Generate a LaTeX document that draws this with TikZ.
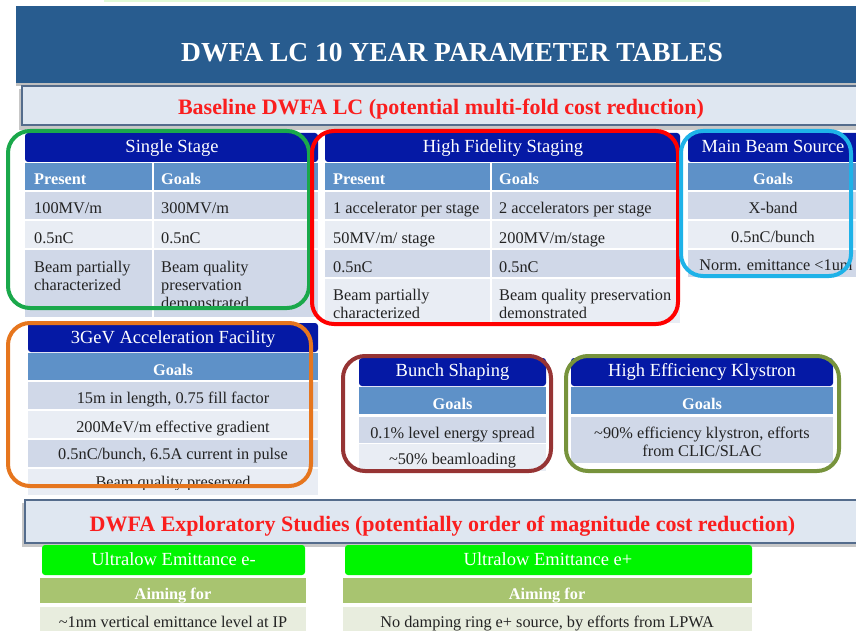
\documentclass[tikz,border=0pt]{standalone}
\usepackage{fontspec}
\setmainfont{Liberation Serif}

\definecolor{titleblue}{RGB}{40,92,143}
\definecolor{subfill}{RGB}{223,231,241}
\definecolor{subborder}{RGB}{84,108,140}
\definecolor{hdrblue}{RGB}{5,25,165}
\definecolor{colblue}{RGB}{94,145,200}
\definecolor{rowdark}{RGB}{208,216,232}
\definecolor{rowlight}{RGB}{233,237,244}
\definecolor{txtcol}{RGB}{35,35,35}
\definecolor{redtxt}{RGB}{250,30,30}
\definecolor{gframe}{RGB}{26,168,75}
\definecolor{rframe}{RGB}{255,0,0}
\definecolor{bframe}{RGB}{30,178,232}
\definecolor{oframe}{RGB}{230,118,30}
\definecolor{brframe}{RGB}{150,52,52}
\definecolor{olframe}{RGB}{119,147,60}
\definecolor{brightgreen}{RGB}{0,245,0}
\definecolor{aimgreen}{RGB}{168,196,112}
\definecolor{datagreen}{RGB}{232,237,222}
\definecolor{stripgreen}{RGB}{225,250,215}

% filled table cell: style, name, x, y (top-left), width, height
\newcommand\cellat[6]{\node[#1, minimum width=#5pt, minimum height=#6pt] (#2) at (#3,#4) {};}

\begin{document}
\begin{tikzpicture}[x=1pt,y=-1pt,
  cellshape/.style={anchor=north west, inner sep=0pt, outer sep=0pt},
  hdrcell/.style={cellshape, fill=hdrblue, rounded corners=3pt},
  colcell/.style={cellshape, fill=colblue},
  darkrow/.style={cellshape, fill=rowdark},
  lightrow/.style={cellshape, fill=rowlight},
  greenhdr/.style={cellshape, fill=brightgreen, rounded corners=3pt},
  aimcell/.style={cellshape, fill=aimgreen},
  datacell/.style={cellshape, fill=datagreen},
  bar/.style={cellshape, fill=subfill, draw=subborder, line width=2.5pt},
  titletext/.style={text=white, font=\bfseries\fontsize{27.5}{30}\selectfont, inner sep=0pt, anchor=base},
  redtext/.style={text=redtxt, font=\bfseries\fontsize{22}{24}\selectfont, inner sep=0pt, anchor=base},
  hdrtext/.style={text=white, font=\fontsize{18.5}{20}\selectfont, inner sep=0pt, anchor=base},
  coltext/.style={text=white, font=\bfseries\fontsize{16.3}{18}\selectfont, inner sep=0pt},
  celltext/.style={text=txtcol, font=\fontsize{16.3}{18}\selectfont, inner sep=0pt},
  frame/.style={line width=4pt, rounded corners=22pt},
]
\useasboundingbox (0,0) rectangle (856,631);
\clip (0,0) rectangle (856,631);

% faint strip along the top edge
\fill[stripgreen] (104,0) rectangle (710,2.5);

% title bar
\fill[black, opacity=0.25] (16,8) rectangle (860,86);
\cellat{cellshape, fill=titleblue}{title}{16}{6}{844}{77}
\node[titletext] (titlet) at (452,62) {DWFA LC 10 YEAR PARAMETER TABLES};

% baseline sub-heading bar
\fill[black, opacity=0.22] (19,89) rectangle (860,130);
\cellat{bar}{sub}{22}{86}{840}{39}
\node[redtext] (subt) at (441,115) {Baseline DWFA LC (potential multi-fold cost reduction)};

% ---------- Single Stage ----------
\cellat{hdrcell}{ssh}{25}{133}{293}{29}
\node[hdrtext] (ssht) at (172,153) {Single Stage};
\cellat{colcell}{ssp}{25}{163}{127}{27}
\cellat{colcell}{ssg}{154}{163}{164}{27}
\node[coltext, anchor=base west] (sspt) at (34,185) {Present};
\node[coltext, anchor=base west] (ssgt) at (161,185) {Goals};
\cellat{darkrow}{ss1a}{25}{192}{127}{27}
\cellat{darkrow}{ss1b}{154}{192}{164}{27}
\cellat{lightrow}{ss2a}{25}{221}{127}{27}
\cellat{lightrow}{ss2b}{154}{221}{164}{27}
\cellat{darkrow}{ss3a}{25}{250}{127}{67}
\cellat{darkrow}{ss3b}{154}{250}{164}{67}
\node[celltext, anchor=base west] (ss1at) at (34,214) {100MV/m};
\node[celltext, anchor=base west] (ss1bt) at (161,214) {300MV/m};
\node[celltext, anchor=base west] (ss2at) at (34,243) {0.5nC};
\node[celltext, anchor=base west] (ss2bt) at (161,243) {0.5nC};
\node[celltext, anchor=base west] (ss3at) at (34,272) {Beam partially};
\node[celltext, anchor=base west] (ss3at2) at (34,290) {characterized};
\node[celltext, anchor=base west] (ss3bt) at (161,272) {Beam quality};
\node[celltext, anchor=base west] (ss3bt2) at (161,290) {preservation};
\begin{scope}
  \clip (150,295) rectangle (320,306);
  \node[celltext, anchor=base west] (ss3bt3) at (161,308) {demonstrated};
\end{scope}

% ---------- High Fidelity Staging ----------
\cellat{hdrcell}{hfh}{325}{133}{355}{29}
\node[hdrtext] (hfht) at (503,153) {High Fidelity Staging};
\cellat{colcell}{hfp}{325}{163}{165}{27}
\cellat{colcell}{hfg}{492}{163}{188}{27}
\node[coltext, anchor=base west] (hfpt) at (333,185) {Present};
\node[coltext, anchor=base west] (hfgt) at (499,185) {Goals};
\cellat{darkrow}{hf1a}{325}{192}{165}{27}
\cellat{darkrow}{hf1b}{492}{192}{188}{27}
\cellat{lightrow}{hf2a}{325}{221}{165}{27}
\cellat{lightrow}{hf2b}{492}{221}{188}{27}
\cellat{darkrow}{hf3a}{325}{250}{165}{27}
\cellat{darkrow}{hf3b}{492}{250}{188}{27}
\cellat{lightrow}{hf4a}{325}{279}{165}{44}
\cellat{lightrow}{hf4b}{492}{279}{188}{44}
\node[celltext, anchor=base west] (hf1at) at (333,214) {1 accelerator per stage};
\node[celltext, anchor=base west] (hf1bt) at (499,214) {2 accelerators per stage};
\node[celltext, anchor=base west] (hf2at) at (333,243) {50MV/m/ stage};
\node[celltext, anchor=base west] (hf2bt) at (499,243) {200MV/m/stage};
\node[celltext, anchor=base west] (hf3at) at (333,272) {0.5nC};
\node[celltext, anchor=base west] (hf3bt) at (499,272) {0.5nC};
\node[celltext, anchor=base west] (hf4at) at (333,300) {Beam partially};
\node[celltext, anchor=base west] (hf4at2) at (333,318) {characterized};
\node[celltext, anchor=base west] (hf4bt) at (499,300) {Beam quality preservation};
\node[celltext, anchor=base west] (hf4bt2) at (499,318) {demonstrated};

% ---------- Main Beam Source ----------
\cellat{hdrcell}{mbh}{688}{133}{172}{29}
\node[hdrtext] (mbht) at (773,153) {Main Beam Source};
\cellat{colcell}{mbg}{688}{163}{172}{27}
\node[coltext, anchor=base] (mbgt) at (773,185) {Goals};
\cellat{darkrow}{mb1}{688}{192}{172}{27}
\cellat{lightrow}{mb2}{688}{221}{172}{27}
\cellat{darkrow}{mb3}{688}{250}{172}{27}
\node[celltext, anchor=base] (mb1t) at (773,214) {X-band};
\node[celltext, anchor=base] (mb2t) at (773,242) {0.5nC/bunch};
\node[celltext, anchor=base] (mb3t) at (776,270) {Norm. emittance {<}1um};

% ---------- 3GeV Acceleration Facility ----------
\cellat{hdrcell}{gvh}{28}{323}{290}{29}
\node[hdrtext] (gvht) at (173,343) {3GeV Acceleration Facility};
\cellat{colcell}{gvg}{28}{353}{290}{27}
\node[coltext, anchor=base] (gvgt) at (173,375) {Goals};
\cellat{darkrow}{gv1}{28}{382}{290}{27}
\cellat{lightrow}{gv2}{28}{411}{290}{27}
\cellat{darkrow}{gv3}{28}{440}{290}{27}
\cellat{lightrow}{gv4}{28}{469}{290}{26}
\node[celltext, anchor=base] (gv1t) at (173,403) {15m in length, 0.75 fill factor};
\node[celltext, anchor=base] (gv2t) at (173,432) {200MeV/m effective gradient};
\node[celltext, anchor=base] (gv3t) at (173,459) {0.5nC/bunch, 6.5A current in pulse};
\begin{scope}
  \clip (28,470) rectangle (318,489);
  \node[celltext, anchor=base] (gv4t) at (173,487) {Beam quality preserved};
\end{scope}

% ---------- Bunch Shaping ----------
\cellat{hdrcell}{bsh}{359}{358}{187}{28}
\node[hdrtext] (bsht) at (452.5,376) {Bunch Shaping};
\cellat{colcell}{bsg}{359}{387}{187}{27}
\node[coltext, anchor=base] (bsgt) at (452.5,409) {Goals};
\cellat{darkrow}{bs1}{359}{417}{187}{26}
\cellat{lightrow}{bs2}{359}{444}{187}{27}
\node[celltext, anchor=base] (bs1t) at (452.5,438) {0.1\% level energy spread};
\node[celltext, anchor=base] (bs2t) at (452.5,464) {\textasciitilde50\% beamloading};

% ---------- High Efficiency Klystron ----------
\cellat{hdrcell}{hkh}{571}{358}{262}{28}
\node[hdrtext] (hkht) at (702,376) {High Efficiency Klystron};
\cellat{colcell}{hkg}{571}{387}{262}{27}
\node[coltext, anchor=base] (hkgt) at (702,409) {Goals};
\cellat{darkrow}{hk1}{571}{417}{262}{46}
\node[celltext, anchor=base] (hk1t) at (702,438) {\textasciitilde90\% efficiency klystron, efforts};
\node[celltext, anchor=base] (hk1t2) at (702,456) {from CLIC/SLAC};

% ---------- highlight frames ----------
\draw[frame, gframe] (8,131) rectangle (309,308);
\draw[frame, rframe] (312,131) rectangle (678,324);
\draw[frame, bframe] (681,131) rectangle (851,276);
\draw[frame, oframe] (8,323) rectangle (311,486);
\draw[frame, brframe] (343,356) rectangle (551,471);
\draw[frame, olframe] (566,356) rectangle (839,471);

% ---------- exploratory studies ----------
\fill[black, opacity=0.22] (22,503) rectangle (860,547);
\cellat{bar}{expl}{25}{500}{840}{43}
\node[redtext] (explt) at (442.5,531) {DWFA Exploratory Studies (potentially order of magnitude cost reduction)};

\cellat{greenhdr}{emh}{42}{545}{263}{30}
\node[hdrtext] (emht) at (173.5,565) {Ultralow Emittance e-};
\cellat{aimcell}{ema}{40}{578}{266}{25}
\node[coltext, anchor=base] (emat) at (173,599) {Aiming for};
\cellat{datacell}{emd}{40}{607}{266}{30}
\node[celltext, anchor=base] (emdt) at (173,627) {\textasciitilde1nm vertical emittance level at IP};

\cellat{greenhdr}{eph}{345}{545}{407}{30}
\node[hdrtext] (epht) at (548,565) {Ultralow Emittance e+};
\cellat{aimcell}{epa}{343}{578}{409}{25}
\node[coltext, anchor=base] (epat) at (547,599) {Aiming for};
\cellat{datacell}{epd}{343}{607}{409}{30}
\node[celltext, anchor=base] (epdt) at (547,627) {No damping ring e+ source, by efforts from LPWA};
\end{tikzpicture}
\end{document}
